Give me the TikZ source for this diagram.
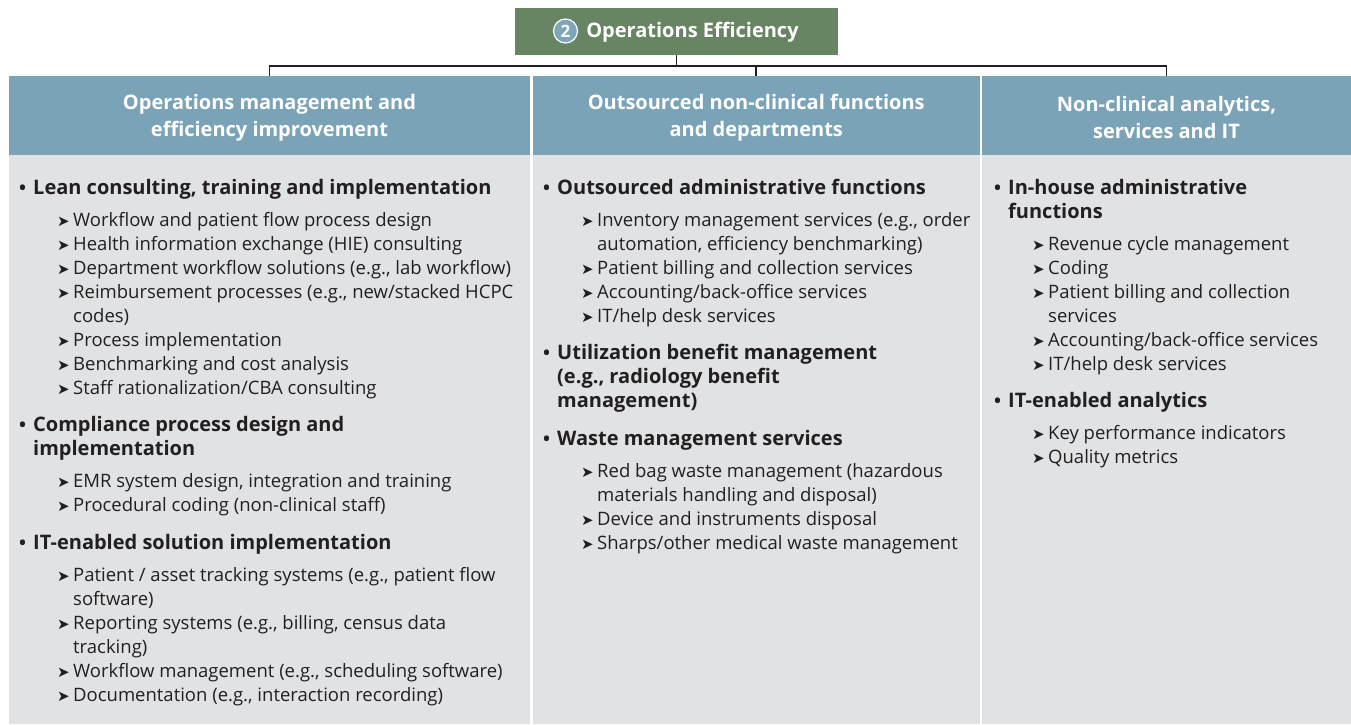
\documentclass[tikz,border=0pt]{standalone}
\usepackage{fontspec}
\setmainfont{Open Sans}
\newfontfamily\dingfont{DejaVu Sans}
\usetikzlibrary{positioning}
\definecolor{oegreen}{HTML}{688563}
\definecolor{oeblue}{HTML}{7BA3B7}
\definecolor{oecircle}{HTML}{7FA5BA}
\definecolor{oegray}{HTML}{E1E2E4}
\definecolor{oetext}{HTML}{231F20}
% list lines: main points and arrow sub points
\newcommand{\mainpt}[1]{\makebox[14pt][l]{\bfseries\textbullet}{\fontsize{20}{24}\selectfont\bfseries #1}}
\newcommand{\mainptcont}[1]{\hspace*{14pt}{\fontsize{20}{24}\selectfont\bfseries #1}}
\newcommand{\subpt}[1]{\hspace*{38pt}\makebox[16pt][l]{\raisebox{0.3pt}{\dingfont\fontsize{15}{15}\selectfont\char"27A4}}#1}
\newcommand{\subptcont}[1]{\hspace*{54pt}#1}
\tikzset{
  topbox/.style={fill=oegreen,minimum width=323pt,minimum height=47pt,inner sep=0pt},
  colhead/.style={fill=oeblue,minimum height=79pt,inner sep=0pt},
  headtext/.style={text=white,font=\fontsize{20}{27}\selectfont\bfseries,align=center,inner sep=0pt,yshift=-2pt},
  colbody/.style={fill=oegray,minimum height=569pt,inner sep=0pt,anchor=north},
  listtext/.style={anchor=base west,inner sep=0pt,text=oetext},
  link/.style={draw=oetext,line width=1.8pt},
}
\begin{document}
\begin{tikzpicture}[x=1pt,y=1pt]
\useasboundingbox (0,0) rectangle (1351,-724);
% title box
\node[topbox] (top) at (676.5,-31.5) {};
\node[circle,fill=oecircle,draw=white,line width=1.2pt,minimum size=24pt,inner sep=0pt,
  text=white,font=\fontsize{17}{17}\selectfont\bfseries] (num) at (565.5,-31) {2};
\node[base right=8pt of num,text=white,font=\fontsize{20}{20}\selectfont\bfseries,inner sep=0pt] (title) {Operations Efficiency};
% column heads
\node[colhead,minimum width=521pt] (h1) at (269.5,-115.5) {};
\node[colhead,minimum width=447.5pt] (h2) at (756.25,-115.5) {};
\node[colhead,minimum width=369pt] (h3) at (1166.5,-115.5) {};
\node[headtext] (h1txt) at (h1) {Operations management and\\efficiency improvement};
\node[headtext] (h2txt) at (h2) {Outsourced non-clinical functions\\and departments};
\node[headtext] (h3txt) at (h3) {Non-clinical analytics,\\services and IT};
% column bodies
\node[colbody,minimum width=521pt] (b1) at (h1.south) {};
\node[colbody,minimum width=447.5pt] (b2) at (h2.south) {};
\node[colbody,minimum width=369pt] (b3) at (h3.south) {};
% connectors
\coordinate (bus) at (top.south |- 0,-66);
\draw[link] (top.south) -- (bus);
\draw[link] (h1.north) -- (h1.north |- bus) -- (h3.north |- bus) -- (h3.north);
\draw[link] (h2.north) -- (h2.north |- bus);
% lists
\node[listtext] (l1) at (19,-194.5) {\begin{minipage}[t]{505pt}\fontsize{18.5}{24}\selectfont\raggedright
\mainpt{Lean consulting, training and implementation}\\[8pt]
\subpt{Workflow and patient flow process design}\\
\subpt{Health information exchange (HIE) consulting}\\
\subpt{Department workflow solutions (e.g., lab workflow)}\\
\subpt{Reimbursement processes (e.g., new/stacked HCPC}\\
\subptcont{codes)}\\
\subpt{Process implementation}\\
\subpt{Benchmarking and cost analysis}\\
\subpt{Staff rationalization/CBA consulting}\\[13pt]
\mainpt{Compliance process design and}\\
\mainptcont{implementation}\\[8pt]
\subpt{EMR system design, integration and training}\\
\subpt{Procedural coding (non-clinical staff)}\\[14pt]
\mainpt{IT-enabled solution implementation}\\[8pt]
\subpt{Patient / asset tracking systems (e.g., patient flow}\\
\subptcont{software)}\\
\subpt{Reporting systems (e.g., billing, census data}\\
\subptcont{tracking)}\\
\subpt{Workflow management (e.g., scheduling software)}\\
\subpt{Documentation (e.g., interaction recording)}
\end{minipage}};
\node[listtext] (l2) at (543,-194.5) {\begin{minipage}[t]{430pt}\fontsize{18.5}{24}\selectfont\raggedright
\mainpt{Outsourced administrative functions}\\[8pt]
\subpt{Inventory management services (e.g., order}\\
\subptcont{automation, efficiency benchmarking)}\\
\subpt{Patient billing and collection services}\\
\subpt{Accounting/back-office services}\\
\subpt{IT/help desk services}\\[13pt]
\mainpt{Utilization benefit management}\\
\mainptcont{(e.g., radiology benefit}\\
\mainptcont{management)}\\[14pt]
\mainpt{Waste management services}\\[8pt]
\subpt{Red bag waste management (hazardous}\\
\subptcont{materials handling and disposal)}\\
\subpt{Device and instruments disposal}\\
\subpt{Sharps/other medical waste management}
\end{minipage}};
\node[listtext] (l3) at (994,-194.5) {\begin{minipage}[t]{350pt}\fontsize{18.5}{24}\selectfont\raggedright
\mainpt{In-house administrative}\\
\mainptcont{functions}\\[8pt]
\subpt{Revenue cycle management}\\
\subpt{Coding}\\
\subpt{Patient billing and collection}\\
\subptcont{services}\\
\subpt{Accounting/back-office services}\\
\subpt{IT/help desk services}\\[13pt]
\mainpt{IT-enabled analytics}\\[8pt]
\subpt{Key performance indicators}\\
\subpt{Quality metrics}
\end{minipage}};
\end{tikzpicture}
\end{document}
